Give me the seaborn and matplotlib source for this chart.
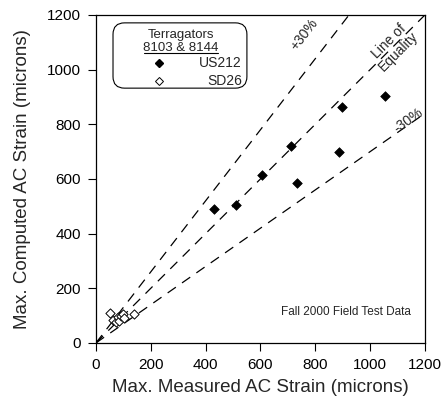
import numpy as np
import pandas as pd
import seaborn as sns
import matplotlib.pyplot as plt
from matplotlib.patches import FancyBboxPatch

# measured vs computed strain (microns)
us212_meas = [431, 511, 604, 710, 732, 885, 896, 1054]
us212_comp = [490, 505, 615, 721, 585, 699, 864, 904]
sd26_meas = [50, 62, 72, 80, 86, 92, 98, 104, 140]
sd26_comp = [110, 85, 78, 95, 80, 100, 106, 90, 106]

ratios = [1.3, 1.0, 0.7]
line_ends = [0, 1200]

sns.set_theme(style="ticks")
plt.rcParams['font.family'] = ['Liberation Sans', 'DejaVu Sans']

fig = plt.figure(figsize=(4.44, 4.0), dpi=100)
ax = fig.add_axes([0.216, 0.1425, 0.741, 0.82])

for r in ratios:
    xs = np.array(line_ends, dtype=float)
    ax.plot(xs, xs * r, color='black', lw=0.9, dashes=(8, 6), zorder=1)

us = pd.DataFrame({'x': us212_meas, 'y': us212_comp})
sd = pd.DataFrame({'x': sd26_meas, 'y': sd26_comp})
sns.scatterplot(data=us, x='x', y='y', marker='D', s=24, color='black',
                edgecolor='black', linewidth=0.5, ax=ax, zorder=3)
sns.scatterplot(data=sd, x='x', y='y', marker='D', s=22, facecolors='white',
                edgecolor='black', linewidth=0.7, ax=ax, zorder=3)

ax.set_xlim(0, 1200)
ax.set_ylim(0, 1200)
ax.set_xticks(range(0, 1201, 200))
ax.set_yticks(range(0, 1201, 200))
ax.tick_params(labelsize=11, length=6, width=0.8, pad=5, color='black', labelcolor='black')
for sp in ax.spines.values():
    sp.set_linewidth(0.9)
    sp.set_color('black')
ax.set_xlabel('Max. Measured AC Strain (microns)', fontsize=13.5, labelpad=5)
ax.set_ylabel('Max. Computed AC Strain (microns)', fontsize=13.5, labelpad=11)

# line annotations
ax.text(760, 1130, '+30%', rotation=52, fontsize=10, ha='center', va='center')
ax.text(1085, 1085, 'Line of\nEquality', rotation=45, fontsize=10, ha='center',
        va='center', linespacing=0.95)
ax.text(1140, 815, '-30%', rotation=35, fontsize=10, ha='center', va='center')

ax.text(1150, 115, 'Fall 2000 Field Test Data', fontsize=8.5, ha='right', va='center')

# legend box with underlined second title line
box = FancyBboxPatch((0.052, 0.777), 0.407, 0.199, boxstyle='round,pad=0,rounding_size=0.035',
                     transform=ax.transAxes, facecolor='none', edgecolor='black', lw=0.8)
ax.add_patch(box)
ax.text(0.258, 0.939, 'Terragators', transform=ax.transAxes, fontsize=9.5,
        ha='center', va='center')
ax.text(0.258, 0.899, '8103 & 8144', transform=ax.transAxes, fontsize=9.5,
        ha='center', va='center')
ax.plot([0.146, 0.370], [0.883, 0.883], transform=ax.transAxes, color='black', lw=0.8)
ax.plot([0.191], [0.853], 'D', ms=4.5, color='black', transform=ax.transAxes)
ax.plot([0.191], [0.800], 'D', ms=4.2, mfc='white', mec='black', mew=0.7,
        transform=ax.transAxes)
ax.text(0.444, 0.853, 'US212', transform=ax.transAxes, fontsize=10,
        ha='right', va='center')
ax.text(0.444, 0.800, 'SD26', transform=ax.transAxes, fontsize=10,
        ha='right', va='center')

fig.savefig('out.png', dpi=100)
